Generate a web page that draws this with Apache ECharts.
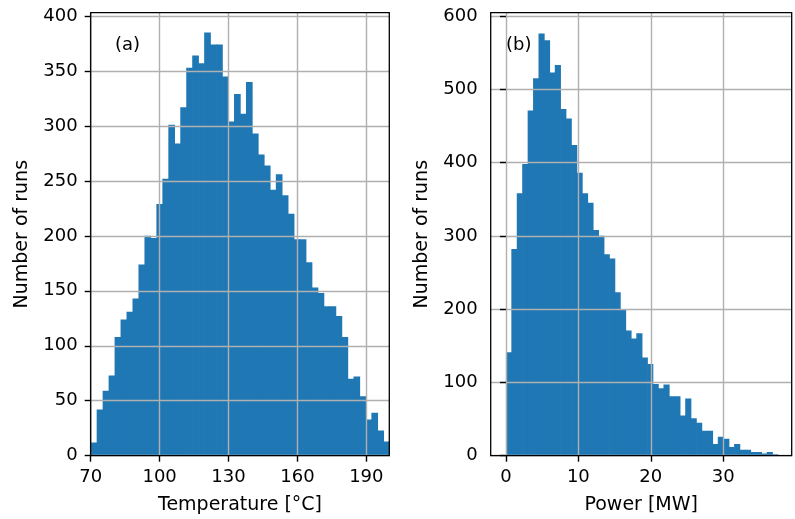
<!DOCTYPE html>
<html>
<head>
<meta charset="utf-8">
<script src="https://cdn.jsdelivr.net/npm/echarts@6/dist/echarts.min.js"></script>
<style>
html,body{margin:0;padding:0;background:#fff;}
#chart{width:795px;height:519px;}
</style>
</head>
<body>
<div id="chart"></div>
<script>
// ---- data ----
const tempBinStart = 70;
const tempBinWidth = 2.6;
const tempCounts = [12,42,59,73,108,124,131,143,174,200,198,229,252,301,284,317,353,364,357,385,374,374,345,304,329,311,340,293,274,264,242,256,237,220,197,197,176,153,148,136,136,127,108,70,72,54,33,39,23,13];
const powerBinStart = 0;
const powerBinWidth = 0.75;
const powerCounts = [141,282,358,398,471,515,576,567,523,533,473,460,424,386,358,345,308,300,275,269,223,199,171,160,167,134,125,98,92,97,81,81,55,78,51,45,34,34,16,26,23,12,16,8,8,5,5,3,5,2];
const tempTicks = [70,100,130,160,190];
const tempCountTicks = [0,50,100,150,200,250,300,350,400];
const powerTicks = [0,10,20,30];
const powerCountTicks = [0,100,200,300,400,500,600];
const panelLabels = ['(a)', '(b)'];
const xNames = ['Temperature [°C]', 'Power [MW]'];
const yName = 'Number of runs';

function histData(start, width, counts) {
  return counts.map((c, i) => [start + i * width, start + (i + 1) * width, c]);
}

const FONT = 'DejaVu Sans';
const FS = 18;
const NFS = 19;
const BLUE = '#1f77b4';

function renderHist(params, api) {
  const p0 = api.coord([api.value(0), api.value(2)]);
  const p1 = api.coord([api.value(1), 0]);
  return {
    type: 'rect',
    shape: {x: p0[0], y: p0[1], width: p1[0] - p0[0] + 0.7, height: p1[1] - p0[1]},
    style: {fill: BLUE}
  };
}

function xAxisCfg(gridIndex, min, max, ticks, name) {
  return {
    type: 'value', gridIndex, min, max, z: 4,
    name, nameLocation: 'middle', nameGap: 40,
    nameTextStyle: {fontFamily: FONT, fontSize: NFS, color: '#000'},
    axisLine: {show: false},
    axisTick: {show: true, inside: false, length: 6, customValues: ticks, lineStyle: {color: '#000', width: 1.4}},
    axisLabel: {show: true, margin: 13, customValues: ticks, fontFamily: FONT, fontSize: FS, color: '#000', showMinLabel: true, showMaxLabel: true},
    splitLine: {show: true, lineStyle: {color: '#b0b0b0', width: 1.4}}
  };
}
function yAxisCfg(gridIndex, min, max, ticks) {
  return {
    type: 'value', gridIndex, min, max, z: 4,
    name: yName, nameLocation: 'middle', nameGap: 59,
    nameTextStyle: {fontFamily: FONT, fontSize: NFS, color: '#000'},
    axisLine: {show: false},
    axisTick: {show: true, inside: false, length: 6, customValues: ticks, lineStyle: {color: '#000', width: 1.4}},
    axisLabel: {show: true, margin: 13, customValues: ticks, fontFamily: FONT, fontSize: FS, color: '#000', showMinLabel: true, showMaxLabel: true},
    splitLine: {show: true, lineStyle: {color: '#b0b0b0', width: 1.4}}
  };
}

const chart = echarts.init(document.getElementById('chart'), null, {renderer: 'canvas'});
const option = {
  animation: false,
  backgroundColor: '#fff',
  textStyle: {fontFamily: FONT},
  grid: [
    {left: 90.7, top: 12.7, width: 298.6, height: 443, show: true, z: 6, backgroundColor: 'transparent', borderColor: '#000', borderWidth: 1.3, containLabel: false, outerBoundsMode: 'none'},
    {left: 490.7, top: 12.7, width: 301, height: 443, show: true, z: 6, backgroundColor: 'transparent', borderColor: '#000', borderWidth: 1.3, containLabel: false, outerBoundsMode: 'none'}
  ],
  xAxis: [
    xAxisCfg(0, 70, 200, tempTicks, xNames[0]),
    xAxisCfg(1, -2.1, 39.45, powerTicks, xNames[1])
  ],
  yAxis: [
    yAxisCfg(0, 0, 403, tempCountTicks),
    yAxisCfg(1, 0, 604.5, powerCountTicks)
  ],
  graphic: [
    {type: 'text', left: 115, top: 36, z: 10, style: {text: panelLabels[0], font: FS + 'px "' + FONT + '"', fill: '#000'}},
    {type: 'text', left: 506, top: 36, z: 10, style: {text: panelLabels[1], font: FS + 'px "' + FONT + '"', fill: '#000'}}
  ],
  series: [
    {type: 'custom', xAxisIndex: 0, yAxisIndex: 0, z: 2, renderItem: renderHist, data: histData(tempBinStart, tempBinWidth, tempCounts), encode: {x: [0, 1], y: 2}, clip: true},
    {type: 'custom', xAxisIndex: 1, yAxisIndex: 1, z: 2, renderItem: renderHist, data: histData(powerBinStart, powerBinWidth, powerCounts), encode: {x: [0, 1], y: 2}, clip: true}
  ]
};
chart.setOption(option);
</script>
</body>
</html>
